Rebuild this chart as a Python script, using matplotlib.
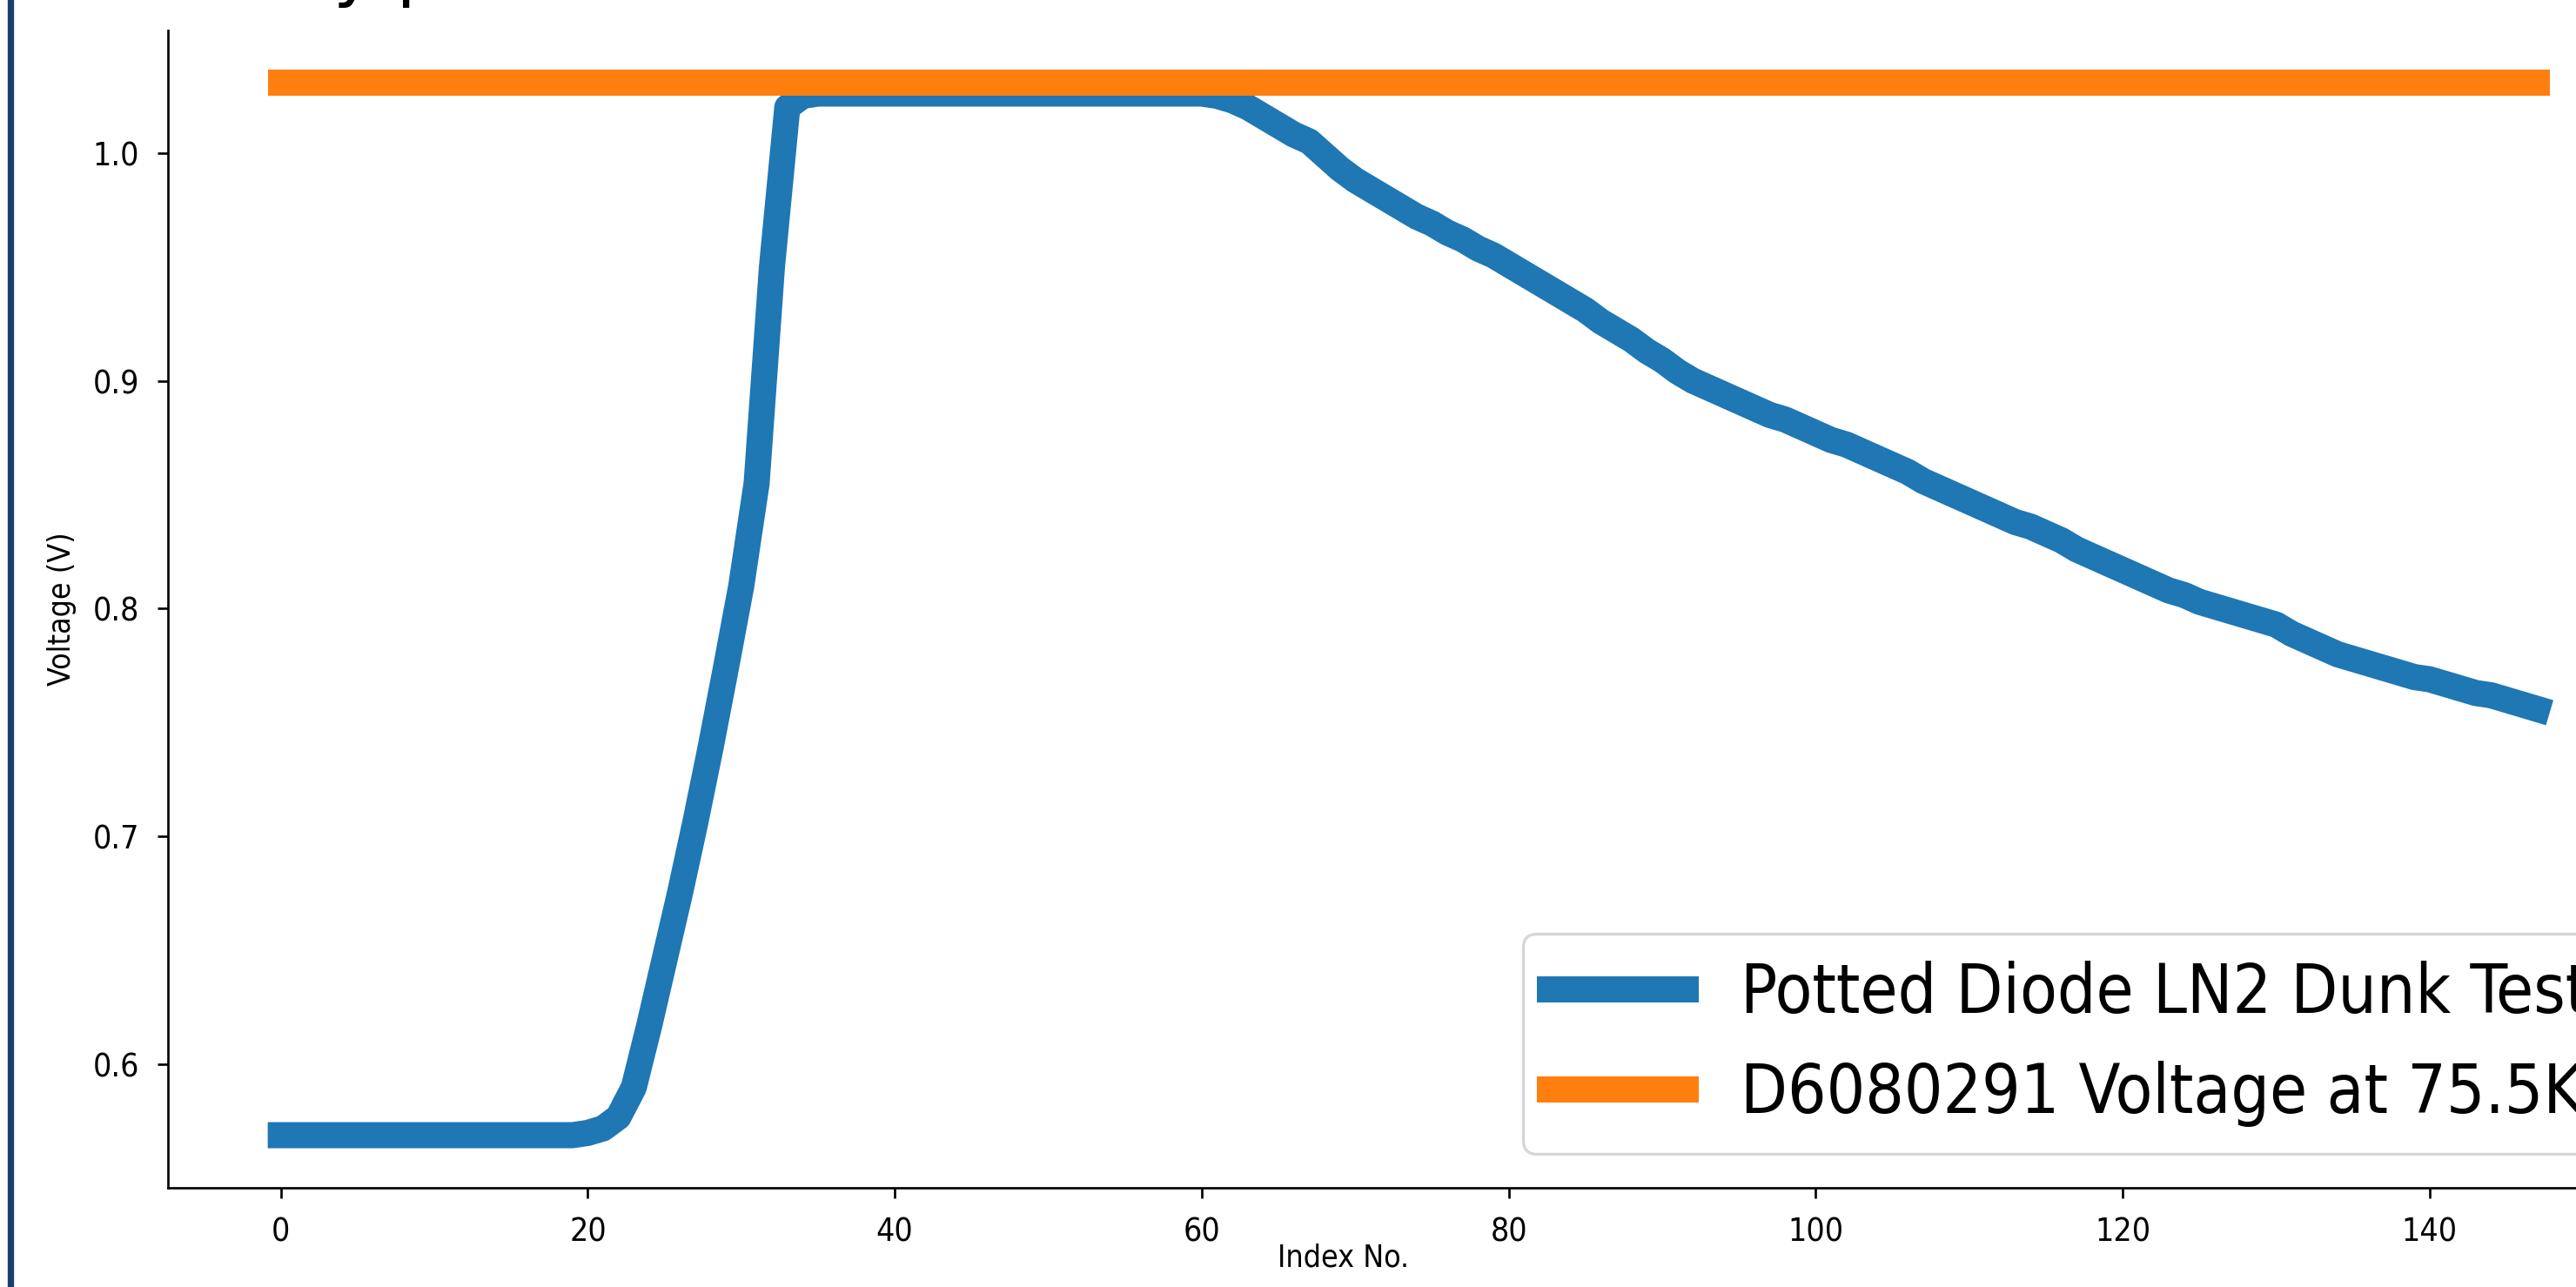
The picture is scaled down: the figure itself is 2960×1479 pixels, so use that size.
import matplotlib
matplotlib.use('Agg')
import matplotlib.pyplot as plt
from matplotlib.lines import Line2D

# --- data ---
index_no = list(range(148))
diode_v = [
	0.569, 0.569, 0.569, 0.569, 0.569, 0.569, 0.569, 0.569, 0.569, 0.569,
	0.569, 0.569, 0.569, 0.569, 0.569, 0.569, 0.569, 0.569, 0.569, 0.569,
	0.570, 0.572, 0.577, 0.590, 0.617, 0.646, 0.675, 0.706, 0.739, 0.774,
	0.810, 0.855, 0.950, 1.020, 1.025, 1.026, 1.026, 1.026, 1.026, 1.026,
	1.026, 1.026, 1.026, 1.026, 1.026, 1.026, 1.026, 1.026, 1.026, 1.026,
	1.026, 1.026, 1.026, 1.026, 1.026, 1.026, 1.026, 1.026, 1.026, 1.026,
	1.026, 1.025, 1.023, 1.020, 1.016, 1.012, 1.008, 1.005, 0.999, 0.993,
	0.988, 0.984, 0.980, 0.976, 0.972, 0.969, 0.965, 0.962, 0.958, 0.955,
	0.951, 0.947, 0.943, 0.939, 0.935, 0.931, 0.926, 0.922, 0.918, 0.913,
	0.909, 0.904, 0.900, 0.897, 0.894, 0.891, 0.888, 0.885, 0.883, 0.880,
	0.877, 0.874, 0.872, 0.869, 0.866, 0.863, 0.860, 0.856, 0.853, 0.850,
	0.847, 0.844, 0.841, 0.838, 0.836, 0.833, 0.830, 0.826, 0.823, 0.820,
	0.817, 0.814, 0.811, 0.808, 0.806, 0.803, 0.801, 0.799, 0.797, 0.795,
	0.793, 0.789, 0.786, 0.783, 0.780, 0.778, 0.776, 0.774, 0.772, 0.770,
	0.769, 0.767, 0.765, 0.763, 0.762, 0.760, 0.758, 0.756,
]
ref_v = 1.0306
labels = ['Potted Diode LN2 Dunk Test', 'D6080291 Voltage at 75.5K']
#
W, H, DPI = 2960, 1479, 240
plt.rcParams['font.family'] = ['DejaVu Sans']
plt.rcParams['font.stretch'] = 'condensed'

fig = plt.figure(figsize=(W / DPI, H / DPI), dpi=DPI)
ax = fig.add_axes([193 / W, 114 / H, 2852 / W, 1330 / H])

ax.plot(index_no, diode_v, lw=9, color='#1f77b4', label=labels[0])
ax.plot(index_no, [ref_v] * len(index_no), lw=9, color='#ff7f0e', label=labels[1])

ax.spines['top'].set_visible(False)
ax.spines['right'].set_visible(False)
ax.tick_params(labelsize=11.2, pad=6.3)
ax.set_xlabel('Index No.', fontsize=10.7, labelpad=6.5)
ax.set_ylabel('Voltage (V)', fontsize=10.7, labelpad=5.5)
ax.xaxis.set_label_coords(0.4737, -0.048, transform=ax.transAxes)
ax.xaxis.label.set_va('top')
ax.legend(loc='lower right', fontsize=23.4)

# slide border and cut-off heading from the screenshot
fig.add_artist(Line2D([11.5 / W, 11.5 / W], [0, 1], color='#1b3f72', lw=2.2))
fig.text(383 / W, 1 + 8 / H, 'y p', fontsize=24, fontstretch='normal',
	va='baseline', ha='left')

fig.savefig('out.png', dpi=DPI)
